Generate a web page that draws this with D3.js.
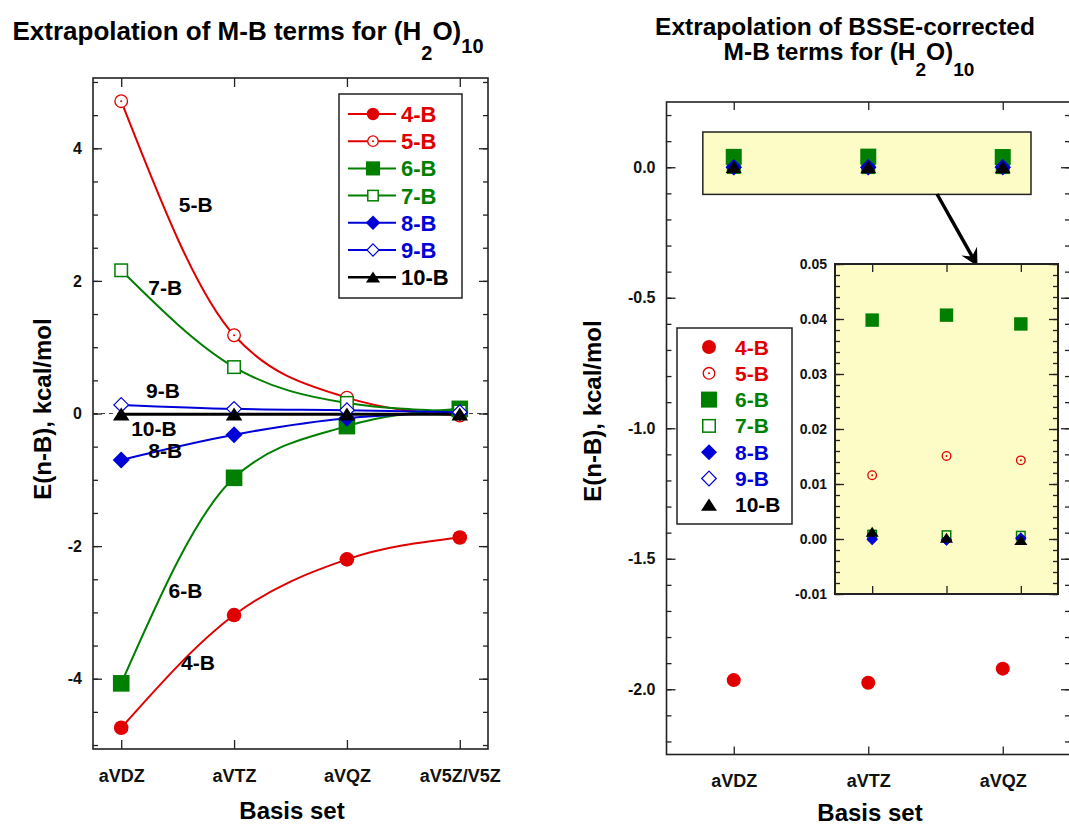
<!DOCTYPE html>
<html>
<head>
<meta charset="utf-8">
<script src="https://cdn.jsdelivr.net/npm/d3@7"></script>
<style>
  body { margin: 0; background: #fff; }
  svg { display: block; }
  text { font-family: "Liberation Sans", Arial, sans-serif; font-weight: bold; }
</style>
</head>
<body>
<svg id="chart" width="1069" height="827"></svg>
<script>
// ---- Data: many-body (n-B) energy terms, kcal/mol ----
const basisSets = ["aVDZ", "aVTZ", "aVQZ", "aV5Z/V5Z"];
const mb4 = [-4.74, -3.04, -2.20, -1.87];
const mb5 = [4.71, 1.18, 0.24, -0.03];
const mb6 = [-4.07, -0.97, -0.19, 0.07];
const mb7 = [2.16, 0.70, 0.16, 0.03];
const mb8 = [-0.70, -0.32, -0.07, 0.01];
const mb9 = [0.13, 0.07, 0.05, 0.02];
const mb10 = [-0.01, -0.01, -0.01, -0.01];

// BSSE-corrected terms
const cpBasisSets = ["aVDZ", "aVTZ", "aVQZ"];
const cp4 = [-1.965, -1.975, -1.921];
const cp5 = [0.0116, 0.0151, 0.0143];
const cp6 = [0.0398, 0.0407, 0.0391];
const cp7 = [0.0008, 0.0007, 0.0006];
const cp8 = [0.0000, -0.0002, 0.0001];
const cp9 = [-0.0001, -0.0002, 0.0002];
const cp10 = [0.0013, 0.0002, -0.0002];

const seriesNames = ["4-B", "5-B", "6-B", "7-B", "8-B", "9-B", "10-B"];
const leftTickValues = [-4, -2, 0, 2, 4];
const rightTickValues = [0, -0.5, -1, -1.5, -2];
const insetTickValues = [-0.01, 0, 0.01, 0.02, 0.03, 0.04, 0.05];

// ---- Styles ----
const RED = "#e00000", GREEN = "#007f00", BLUE = "#0000d8", BLACK = "#000";
const YELLOW = "#fdfbc6";
const styles = [
  { color: RED,   type: "circle" },
  { color: RED,   type: "circleOpen" },
  { color: GREEN, type: "square" },
  { color: GREEN, type: "squareOpen" },
  { color: BLUE,  type: "diamond" },
  { color: BLUE,  type: "diamondOpen" },
  { color: BLACK, type: "triangle" }
];
const mbSeries = [mb4, mb5, mb6, mb7, mb8, mb9, mb10];
const cpSeries = [cp4, cp5, cp6, cp7, cp8, cp9, cp10];

const svg = d3.select("#chart");
svg.append("rect").attr("width", 1069).attr("height", 827).attr("fill", "#fff");

// marker glyphs; s = half-size in px
function marker(parent, type, cx, cy, s, color, openFill) {
  const g = parent.append("g").attr("transform", `translate(${cx},${cy})`);
  const fill = openFill || "#fff";
  switch (type) {
    case "circle":
      g.append("circle").attr("r", s).attr("fill", color); break;
    case "circleOpen":
      g.append("circle").attr("r", s - 0.7).attr("fill", fill).attr("stroke", color).attr("stroke-width", 1.3);
      g.append("circle").attr("r", 1).attr("fill", color); break;
    case "square":
      g.append("rect").attr("x", -s).attr("y", -s).attr("width", 2 * s).attr("height", 2 * s).attr("fill", color); break;
    case "squareOpen":
      g.append("rect").attr("x", -s + 0.75).attr("y", -s + 0.75).attr("width", 2 * s - 1.5).attr("height", 2 * s - 1.5)
        .attr("fill", fill).attr("stroke", color).attr("stroke-width", 1.5); break;
    case "diamond":
      g.append("path").attr("d", `M0,${-s}L${s},0L0,${s}L${-s},0Z`).attr("fill", color); break;
    case "diamondOpen":
      g.append("path").attr("d", `M0,${-s + 0.7}L${s - 0.7},0L0,${s - 0.7}L${-s + 0.7},0Z`)
        .attr("fill", fill).attr("stroke", color).attr("stroke-width", 1.2); break;
    case "triangle":
      g.append("path").attr("d", `M0,${-s * 0.8}L${s},${s * 0.75}L${-s},${s * 0.75}Z`).attr("fill", color); break;
  }
}

function styleAxis(g, size) {
  g.select(".domain").remove();
  g.attr("font-family", "'Liberation Sans', Arial, sans-serif").attr("font-size", size || 16);
  g.selectAll(".tick line").attr("stroke", "#222").attr("stroke-width", 1.3);
  g.selectAll(".tick text").attr("fill", "#111");
}

// ================= Left panel =================
const L = { x0: 93, x1: 488, y0: 78, y1: 749 };
const xL = d3.scaleLinear().domain([-0.25, 3.25]).range([L.x0, L.x1]);
const yL = d3.scaleLinear().domain([-5.06, 5.06]).range([L.y1, L.y0]);
const left = svg.append("g");

// dashed zero reference
left.append("line").attr("x1", L.x0).attr("x2", L.x1).attr("y1", yL(0)).attr("y2", yL(0))
  .attr("stroke", "#444").attr("stroke-width", 1).attr("stroke-dasharray", "4,4");

const minorL = d3.range(-10, 11).map(v => v * 0.5);
left.append("g").attr("transform", `translate(${L.x0},0)`)
  .call(d3.axisLeft(yL).tickValues(minorL).tickSize(-5).tickFormat("")).call(g => styleAxis(g));
left.append("g").attr("transform", `translate(${L.x0},0)`)
  .call(d3.axisLeft(yL).tickValues(leftTickValues).tickSize(-9).tickPadding(11).tickFormat(d => String(d)))
  .call(g => styleAxis(g, 16));
left.append("g").attr("transform", `translate(${L.x1},0)`)
  .call(d3.axisRight(yL).tickValues(minorL).tickSize(-5).tickFormat("")).call(g => styleAxis(g));
left.append("g").attr("transform", `translate(${L.x1},0)`)
  .call(d3.axisRight(yL).tickValues(leftTickValues).tickSize(-9).tickFormat("")).call(g => styleAxis(g));
left.append("g").attr("transform", `translate(0,${L.y0})`)
  .call(d3.axisTop(xL).tickValues([0, 1, 2, 3]).tickSize(-9).tickFormat("")).call(g => styleAxis(g));
left.append("g").attr("transform", `translate(0,${L.y1})`)
  .call(d3.axisBottom(xL).tickValues([0, 1, 2, 3]).tickSize(-9).tickPadding(20).tickFormat(i => basisSets[i]))
  .call(g => styleAxis(g, 18));
left.append("rect").attr("x", L.x0).attr("y", L.y0).attr("width", L.x1 - L.x0).attr("height", L.y1 - L.y0)
  .attr("fill", "none").attr("stroke", "#222").attr("stroke-width", 1.6);

const lineL = d3.line().x((d, i) => xL(i)).y(d => yL(d)).curve(d3.curveMonotoneX);
const markerSizeL = { circle: 7.3, circleOpen: 7, square: 8.3, squareOpen: 7, diamond: 8.5, diamondOpen: 8, triangle: 8.3 };
mbSeries.forEach((vals, k) => {
  const st = styles[k];
  left.append("path").attr("d", lineL(vals)).attr("fill", "none").attr("stroke", st.color)
    .attr("stroke-width", k === 6 ? 3 : 2);
});
mbSeries.forEach((vals, k) => {
  const st = styles[k];
  vals.forEach((v, i) => marker(left, st.type, xL(i), yL(v), markerSizeL[st.type], st.color));
});

// in-plot curve labels (data coordinates)
const curveLabels = [
  { t: "5-B", x: 0.66, y: 3.15 }, { t: "7-B", x: 0.39, y: 1.90 }, { t: "9-B", x: 0.37, y: 0.35 },
  { t: "10-B", x: 0.29, y: -0.22 }, { t: "8-B", x: 0.39, y: -0.56 }, { t: "6-B", x: 0.57, y: -2.67 },
  { t: "4-B", x: 0.68, y: -3.76 }
];
curveLabels.forEach(c => left.append("text").attr("x", xL(c.x)).attr("y", yL(c.y)).attr("dy", "0.36em")
  .attr("text-anchor", "middle").attr("font-size", 21).attr("fill", "#000").text(c.t));

// legend
const legL = left.append("g");
legL.append("rect").attr("x", 339).attr("y", 94).attr("width", 123).attr("height", 204)
  .attr("fill", "#fff").attr("stroke", "#222").attr("stroke-width", 1.5);
seriesNames.forEach((name, k) => {
  const st = styles[k], y = 114 + k * 27.2;
  legL.append("line").attr("x1", 348).attr("x2", 396).attr("y1", y).attr("y2", y)
    .attr("stroke", st.color).attr("stroke-width", k === 6 ? 2.5 : 2);
  marker(legL, st.type, 373, y, markerSizeL[st.type] * 0.85, st.color);
  legL.append("text").attr("x", 401).attr("y", y).attr("dy", "0.36em").attr("font-size", 22)
    .attr("fill", st.color).text(name);
});

// titles / axis labels
const tL = svg.append("text").attr("x", 248).attr("y", 40).attr("text-anchor", "middle").attr("font-size", 26).attr("fill", "#000");
tL.append("tspan").text("Extrapolation of M-B terms for (H");
tL.append("tspan").attr("dy", 20).attr("font-size", 20).text("2");
tL.append("tspan").attr("dy", -20).text("O)");
tL.append("tspan").attr("dy", 13).attr("font-size", 20).text("10");

svg.append("text").attr("transform", "translate(42,409) rotate(-90)").attr("dy", "0.36em")
  .attr("text-anchor", "middle").attr("font-size", 24).text("E(n-B), kcal/mol");
svg.append("text").attr("x", 292).attr("y", 819).attr("text-anchor", "middle").attr("font-size", 24).text("Basis set");

// ================= Right panel =================
const R = { x0: 666.5, x1: 1070, y0: 102, y1: 754.5 };
const xR = d3.scaleLinear().domain([-0.5, 2.5]).range([R.x0, R.x1]);
const yR = d3.scaleLinear().domain([-2.25, 0.25]).range([R.y1, R.y0]);
const right = svg.append("g");

const minorR = d3.range(-22, 3).map(v => v / 10);
right.append("g").attr("transform", `translate(${R.x0},0)`)
  .call(d3.axisLeft(yR).tickValues(minorR).tickSize(-5).tickFormat("")).call(g => styleAxis(g));
right.append("g").attr("transform", `translate(${R.x0},0)`)
  .call(d3.axisLeft(yR).tickValues(rightTickValues).tickSize(-9).tickPadding(11).tickFormat(d => d.toFixed(1)))
  .call(g => styleAxis(g, 16));
right.append("g").attr("transform", `translate(${R.x1},0)`)
  .call(d3.axisRight(yR).tickValues(minorR).tickSize(-5).tickFormat("")).call(g => styleAxis(g));
right.append("g").attr("transform", `translate(${R.x1},0)`)
  .call(d3.axisRight(yR).tickValues(rightTickValues).tickSize(-9).tickFormat("")).call(g => styleAxis(g));
right.append("g").attr("transform", `translate(0,${R.y0})`)
  .call(d3.axisTop(xR).tickValues([0, 1, 2]).tickSize(-8).tickFormat("")).call(g => styleAxis(g));
right.append("g").attr("transform", `translate(0,${R.y1})`)
  .call(d3.axisBottom(xR).tickValues([0, 1, 2]).tickSize(-8).tickPadding(20).tickFormat(i => cpBasisSets[i]))
  .call(g => styleAxis(g, 18));
right.append("rect").attr("x", R.x0).attr("y", R.y0).attr("width", R.x1 - R.x0).attr("height", R.y1 - R.y0)
  .attr("fill", "none").attr("stroke", "#222").attr("stroke-width", 1.6);

// highlighted region around zero
right.append("rect").attr("x", xR(-0.23)).attr("y", yR(0.135))
  .attr("width", xR(2.21) - xR(-0.23)).attr("height", yR(-0.104) - yR(0.135))
  .attr("fill", YELLOW).attr("stroke", "#222").attr("stroke-width", 1.5);

const markerSizeR = { circle: 7, circleOpen: 6.5, square: 8, squareOpen: 7, diamond: 8, diamondOpen: 8, triangle: 8 };
cpSeries.forEach((vals, k) => {
  const st = styles[k];
  vals.forEach((v, i) => marker(right, st.type, xR(i), yR(v), markerSizeR[st.type], st.color, "none"));
});

// arrow from highlighted region to magnified inset
(function () {
  const x1 = 937, y1 = 194, x2 = 977.5, y2 = 266;
  const dx = x2 - x1, dy = y2 - y1, len = Math.hypot(dx, dy);
  const ux = dx / len, uy = dy / len, nx = -uy, ny = ux;
  right.append("line").attr("x1", x1).attr("y1", y1).attr("x2", x2 - ux * 10).attr("y2", y2 - uy * 10)
    .attr("stroke", "#000").attr("stroke-width", 3.5);
  const p = [[x2, y2], [x2 - ux * 17 + nx * 9, y2 - uy * 17 + ny * 9], [x2 - ux * 11, y2 - uy * 11],
             [x2 - ux * 17 - nx * 9, y2 - uy * 17 - ny * 9]];
  right.append("path").attr("d", "M" + p.map(q => q.join(",")).join("L") + "Z").attr("fill", "#000");
})();

// legend
const legR = right.append("g");
legR.append("rect").attr("x", 677).attr("y", 328).attr("width", 115).attr("height", 196)
  .attr("fill", "#fff").attr("stroke", "#222").attr("stroke-width", 1.5);
seriesNames.forEach((name, k) => {
  const st = styles[k], y = 347 + k * 26.3;
  marker(legR, st.type, 709, y, markerSizeR[st.type], st.color);
  legR.append("text").attr("x", 735).attr("y", y).attr("dy", "0.36em").attr("font-size", 21)
    .attr("fill", st.color).text(name);
});

// magnified inset
const I = { x0: 835, x1: 1058, y0: 264, y1: 594 };
const xI = d3.scaleLinear().domain([-0.5, 2.5]).range([I.x0, I.x1]);
const yI = d3.scaleLinear().domain([-0.01, 0.05]).range([I.y1, I.y0]);
const inset = right.append("g");
inset.append("rect").attr("x", I.x0).attr("y", I.y0).attr("width", I.x1 - I.x0).attr("height", I.y1 - I.y0)
  .attr("fill", YELLOW);
const minorI = d3.range(-5, 26).map(v => v * 0.002);
inset.append("g").attr("transform", `translate(${I.x0},0)`)
  .call(d3.axisLeft(yI).tickValues(minorI).tickSize(-5).tickFormat("")).call(g => styleAxis(g));
inset.append("g").attr("transform", `translate(${I.x0},0)`)
  .call(d3.axisLeft(yI).tickValues(insetTickValues).tickSize(-9).tickPadding(8).tickFormat(d => d.toFixed(2)))
  .call(g => styleAxis(g, 14));
inset.append("g").attr("transform", `translate(${I.x1},0)`)
  .call(d3.axisRight(yI).tickValues(minorI).tickSize(-5).tickFormat("")).call(g => styleAxis(g));
inset.append("g").attr("transform", `translate(${I.x1},0)`)
  .call(d3.axisRight(yI).tickValues(insetTickValues).tickSize(-9).tickFormat("")).call(g => styleAxis(g));
inset.append("g").attr("transform", `translate(0,${I.y0})`)
  .call(d3.axisTop(xI).tickValues([0, 1, 2]).tickSize(-8).tickFormat("")).call(g => styleAxis(g));
inset.append("g").attr("transform", `translate(0,${I.y1})`)
  .call(d3.axisBottom(xI).tickValues([0, 1, 2]).tickSize(-8).tickFormat("")).call(g => styleAxis(g));

svg.append("clipPath").attr("id", "insetClip").append("rect")
  .attr("x", I.x0).attr("y", I.y0).attr("width", I.x1 - I.x0).attr("height", I.y1 - I.y0);
const insetPts = inset.append("g").attr("clip-path", "url(#insetClip)");
const markerSizeI = { circle: 6, circleOpen: 5, square: 6.7, squareOpen: 5, diamond: 5.5, diamondOpen: 5.5, triangle: 6.5 };
cpSeries.forEach((vals, k) => {
  const st = styles[k];
  vals.forEach((v, i) => {
    if (v < -0.01 || v > 0.05) return;
    marker(insetPts, st.type, xI(i), yI(v), markerSizeI[st.type], st.color, "none");
  });
});
inset.append("rect").attr("x", I.x0).attr("y", I.y0).attr("width", I.x1 - I.x0).attr("height", I.y1 - I.y0)
  .attr("fill", "none").attr("stroke", "#222").attr("stroke-width", 2);

// titles / axis labels
svg.append("text").attr("x", 845).attr("y", 35).attr("text-anchor", "middle").attr("font-size", 24.5)
  .text("Extrapolation of BSSE-corrected");
const tR2 = svg.append("text").attr("x", 849).attr("y", 60).attr("text-anchor", "middle").attr("font-size", 24.5);
tR2.append("tspan").text("M-B terms for (H");
tR2.append("tspan").attr("dy", 16).attr("font-size", 19).text("2");
tR2.append("tspan").attr("dy", -16).text("O)");
tR2.append("tspan").attr("dy", 16).attr("font-size", 19).text("10");

svg.append("text").attr("transform", "translate(592,411) rotate(-90)").attr("dy", "0.36em")
  .attr("text-anchor", "middle").attr("font-size", 24).text("E(n-B), kcal/mol");
svg.append("text").attr("x", 870).attr("y", 821).attr("text-anchor", "middle").attr("font-size", 24).text("Basis set");
</script>
</body>
</html>
